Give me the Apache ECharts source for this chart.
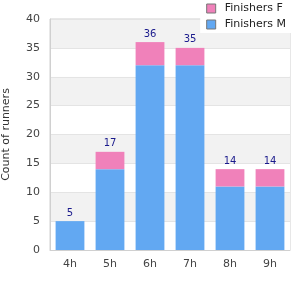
<!DOCTYPE html>
<html>
<head>
<meta charset="utf-8">
<script src="https://cdn.jsdelivr.net/npm/echarts@6/dist/echarts.min.js"></script>
<style>
  html, body { margin: 0; padding: 0; background: #fff; }
  #chart { width: 300px; height: 300px; }
</style>
</head>
<body>
<div id="chart"></div>
<script>
// finishing time buckets
var hours = ['4h', '5h', '6h', '7h', '8h', '9h'];
var finishersM = [5, 14, 32, 32, 11, 11];
var finishersF = [0, 3, 4, 3, 3, 3];
var totals = hours.map(function (h, i) { return finishersM[i] + finishersF[i]; });

var chart = echarts.init(document.getElementById('chart'));

var option = {
  animation: false,
  textStyle: { fontFamily: 'DejaVu Sans' },
  grid: {
    left: 50, right: 10, top: 19, bottom: 50,
    outerBoundsMode: 'none',
    show: true, borderColor: '#d0d0d0', borderWidth: 1
  },
  legend: {
    orient: 'vertical',
    right: 6,
    top: 0,
    icon: 'rect',
    itemWidth: 9,
    itemHeight: 9,
    itemGap: 5,
    padding: [3, 8, 3, 6],
    backgroundColor: '#fff',
    textStyle: { fontSize: 11, color: '#222', padding: [0, 0, 0, 4] },
    itemStyle: { borderColor: '#777', borderWidth: 1 },
    data: ['Finishers F', 'Finishers M']
  },
  xAxis: {
    type: 'category',
    data: hours,
    axisLine: { lineStyle: { color: '#d0d0d0' } },
    axisTick: { show: false },
    axisLabel: { color: '#444', fontSize: 11, margin: 9 }
  },
  yAxis: {
    type: 'value',
    min: 0, max: 40, interval: 5,
    name: 'Count of runners',
    nameLocation: 'middle',
    nameGap: 38,
    nameTextStyle: { color: '#333', fontSize: 11 },
    axisLine: { show: true, lineStyle: { color: '#d0d0d0' } },
    axisLabel: { color: '#444', fontSize: 11, margin: 10 },
    splitLine: { lineStyle: { color: '#e4e4e4' } },
    splitArea: { show: true, areaStyle: { color: ['#ffffff', '#f2f2f2'] } }
  },
  series: [
    {
      name: 'Finishers M',
      type: 'bar',
      stack: 'total',
      barWidth: '72%',
      itemStyle: { color: '#62a8f2' },
      data: finishersM
    },
    {
      name: 'Finishers F',
      type: 'bar',
      stack: 'total',
      itemStyle: { color: '#f081ba' },
      label: {
        show: true,
        position: 'top',
        distance: 3,
        color: '#1a1a8c',
        fontSize: 10,
        formatter: function (p) { return totals[p.dataIndex]; }
      },
      data: finishersF
    }
  ]
};

chart.setOption(option);
</script>
</body>
</html>
